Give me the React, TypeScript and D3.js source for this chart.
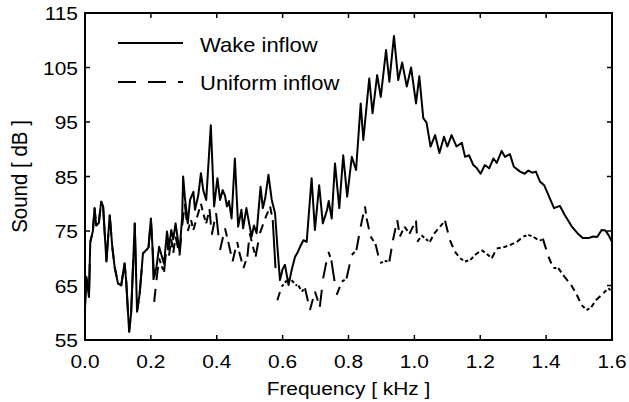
import React from "react";
import * as d3 from "d3";

const wakeFreq = [0.000,0.004,0.012,0.016,0.024,0.029,0.034,0.042,0.049,0.055,0.065,0.075,0.083,0.090,0.100,0.110,0.120,0.125,0.134,0.140,0.151,0.158,0.166,0.176,0.186,0.193,0.200,0.205,0.210,0.217,0.225,0.233,0.240,0.249,0.255,0.262,0.268,0.275,0.287,0.295,0.298,0.303,0.312,0.319,0.329,0.334,0.344,0.352,0.359,0.368,0.382,0.392,0.402,0.410,0.418,0.425,0.431,0.437,0.445,0.455,0.465,0.475,0.480,0.490,0.498,0.506,0.513,0.521,0.533,0.540,0.547,0.557,0.567,0.577,0.584,0.592,0.600,0.607,0.618,0.628,0.638,0.645,0.653,0.663,0.673,0.688,0.698,0.711,0.722,0.735,0.740,0.749,0.759,0.772,0.784,0.796,0.810,0.823,0.837,0.845,0.863,0.873,0.887,0.898,0.914,0.924,0.938,0.951,0.963,0.977,0.990,1.005,1.015,1.027,1.037,1.049,1.063,1.076,1.090,1.100,1.113,1.128,1.144,1.154,1.166,1.179,1.190,1.201,1.214,1.227,1.240,1.250,1.265,1.275,1.290,1.302,1.321,1.335,1.346,1.358,1.369,1.381,1.394,1.407,1.424,1.442,1.457,1.477,1.495,1.511,1.528,1.543,1.555,1.569,1.580,1.589,1.600];
const wakeDb = [61,66.6,62.9,73.0,75,79.2,76.0,76.5,80.4,79.5,69.4,77.9,72,68.4,65.4,65.0,69.1,65.9,56.5,59.9,76.4,60.2,63.5,70.9,71.5,72,77.3,72,66.5,68.4,72.1,70.4,69,74.9,72,75.2,73.5,76.4,71.2,77.6,85.0,81.3,76.4,80.7,82.2,78.9,81.6,85.6,82.5,80.7,94.4,79.5,84.7,80.7,82.5,81.5,79.5,80.5,77.3,88.3,75.8,78.9,75.5,79.2,76.5,74.0,76,74.6,83.1,79.2,81,85.3,80.7,78.3,72.2,66.0,68,68.8,65.1,68,70.3,71,72.1,73.3,73.0,84.7,75.2,83.4,76.4,78.9,80.5,77.3,87.4,79.2,88.9,81.3,88.6,86.2,98.4,91.7,103.0,96.6,103.6,99.6,108.2,102.4,110.8,102.7,105.9,101.5,105.0,98.4,103.4,95.7,94.9,90.5,92.6,89.3,92.3,90.5,92.6,90.5,91.2,88.6,88.9,87.1,86.5,85.5,87.1,86.5,88.3,87.5,89.7,88.6,89.1,86.8,85.9,85.5,86.1,85.7,85.9,84.1,83.4,81.6,79.2,79.6,77.9,75.9,74.6,73.7,73.7,74.0,73.9,75.2,75.1,74.3,73.0];

const uniformFreq = [0.000,0.004,0.012,0.016,0.024,0.029,0.034,0.042,0.049,0.055,0.065,0.075,0.083,0.090,0.100,0.110,0.120,0.125,0.134,0.140,0.151,0.158,0.166,0.176,0.186,0.193,0.200,0.205,0.210,0.217,0.225,0.233,0.240,0.249,0.255,0.262,0.268,0.275,0.287,0.295,0.303,0.312,0.322,0.329,0.340,0.352,0.360,0.368,0.378,0.385,0.398,0.410,0.425,0.435,0.448,0.462,0.468,0.481,0.493,0.500,0.510,0.518,0.531,0.547,0.562,0.570,0.584,0.597,0.607,0.617,0.627,0.639,0.648,0.658,0.668,0.683,0.698,0.713,0.723,0.739,0.748,0.764,0.780,0.794,0.810,0.824,0.837,0.850,0.855,0.867,0.882,0.896,0.910,0.924,0.935,0.948,0.956,0.970,0.985,1.005,1.009,1.022,1.035,1.047,1.060,1.078,1.093,1.108,1.123,1.139,1.154,1.170,1.184,1.204,1.220,1.235,1.250,1.270,1.290,1.311,1.331,1.346,1.362,1.381,1.390,1.407,1.422,1.437,1.452,1.476,1.493,1.508,1.523,1.537,1.551,1.574,1.589,1.600];
const uniformDb = [61,66.6,62.9,73.0,75,79.2,76.0,76.5,80.4,79.5,69.4,77.9,72,68.4,65.4,65.0,69.1,65.9,56.5,59.9,76.4,60.2,63.5,70.9,71.5,72,77.3,72,62,66,70,68.5,67.5,73,70.5,73.5,71,74,70.5,76,80,75,77,75.2,77.5,80,78,76.4,79,74.3,78.3,71.5,75.5,73,69.4,73.0,71.2,68.2,70.3,74.6,72.1,70.3,74.6,77.3,79.5,77,62.3,64.8,65.5,66.2,66.0,65.1,65,63.9,64.5,60.5,63.9,61.1,66.3,71.2,69.6,63.3,65.7,66.3,70.6,71.5,75.8,79.5,77.3,74.0,72.6,69.1,69.5,69.4,73.3,77.0,74.0,75.8,74.5,76.9,73.0,74.2,73.5,73.0,74.5,75.8,76.9,73.3,71.2,70.0,69.4,69.7,70.6,71.5,70.8,70.0,71.8,72,72.4,73.0,74.0,74.3,73.9,73.2,73.6,70.3,68.2,68.2,66.9,65.1,63.3,61.4,60.5,61,62.3,63.6,64.5,63.9];

const xTicks = [0, 0.2, 0.4, 0.6, 0.8, 1.0, 1.2, 1.4, 1.6];
const yTicks = [55, 65, 75, 85, 95, 105, 115];
const seriesNames = ["Wake inflow", "Uniform inflow"];
const xLabel = "Frequency [ kHz ]";
const yLabel = "Sound [ dB ]";

const W = 629, H = 402;
const L = 85, R = 612, T = 13, B = 340;
const FONT = "'Liberation Sans', Arial, Helvetica, sans-serif";
const SX = 1.1;

export default function App() {
  const x = d3.scaleLinear().domain([0, 1.6]).range([L, R]);
  const y = d3.scaleLinear().domain([55, 115]).range([B, T]);
  const line = d3.line<number>().x((_, i) => x(wakeFreq[i])).y((d) => y(d));
  const wakePath = line(wakeDb) || "";

  const segs: string[] = [];
  for (let i = 0; i < uniformFreq.length - 1; i++) {
    const x0 = x(uniformFreq[i]), y0 = y(uniformDb[i]);
    const x1 = x(uniformFreq[i + 1]), y1 = y(uniformDb[i + 1]);
    const fr = 0.6;
    segs.push(`M${x0},${y0}L${x0 + fr * (x1 - x0)},${y0 + fr * (y1 - y0)}`);
  }

  const fmt = d3.format(".1f");
  const tick = 5;

  return (
    <svg width={W} height={H} style={{ position: "absolute", left: 0, top: 0, background: "#fff" }} fontFamily={FONT}>
      <defs>
        <clipPath id="plotclip">
          <rect x={L} y={T} width={R - L} height={B - T} />
        </clipPath>
      </defs>
      <rect x={0} y={0} width={W} height={H} fill="#fff" />
      <g clipPath="url(#plotclip)" fill="none" stroke="#000" strokeWidth={2} strokeLinejoin="round">
        <path d={segs.join("")} strokeLinecap="butt" />
        <path d={wakePath} />
      </g>
      <g stroke="#000" strokeWidth={1.5}>
        {xTicks.map((t) => (
          <g key={"xt" + t}>
            <line x1={x(t)} x2={x(t)} y1={B} y2={B - tick} />
            <line x1={x(t)} x2={x(t)} y1={T} y2={T + tick} />
          </g>
        ))}
        {yTicks.map((t) => (
          <g key={"yt" + t}>
            <line x1={L} x2={L + tick} y1={y(t)} y2={y(t)} />
            <line x1={R} x2={R - tick} y1={y(t)} y2={y(t)} />
          </g>
        ))}
      </g>
      <rect x={L} y={T} width={R - L} height={B - T} fill="none" stroke="#000" strokeWidth={2} />
      <g fontSize={19} fill="#000">
        {xTicks.map((t) => (
          <text key={"xl" + t} transform={`translate(${x(t)},${B + 28}) scale(${SX},1)`} textAnchor="middle">
            {fmt(t)}
          </text>
        ))}
        {yTicks.map((t) => (
          <text key={"yl" + t} transform={`translate(${L - 7},${y(t) + 7}) scale(${SX},1)`} textAnchor="end">
            {t}
          </text>
        ))}
        <text transform={`translate(${(L + R) / 2},${B + 55}) scale(${SX},1)`} textAnchor="middle">
          {xLabel}
        </text>
        <text transform={`translate(${27},${(T + B) / 2}) rotate(-90) scale(1,${SX})`} textAnchor="middle" fontSize={20.5}>
          {yLabel}
        </text>
      </g>
      <g>
        <line x1={118} x2={183} y1={43} y2={43} stroke="#000" strokeWidth={2} />
        <line x1={118} x2={183} y1={82} y2={82} stroke="#000" strokeWidth={2} strokeDasharray="18,12" />
        <text transform={`translate(200,51.5) scale(${SX},1)`} fontSize={20}>{seriesNames[0]}</text>
        <text transform={`translate(200,89.5) scale(${SX},1)`} fontSize={20}>{seriesNames[1]}</text>
      </g>
    </svg>
  );
}
